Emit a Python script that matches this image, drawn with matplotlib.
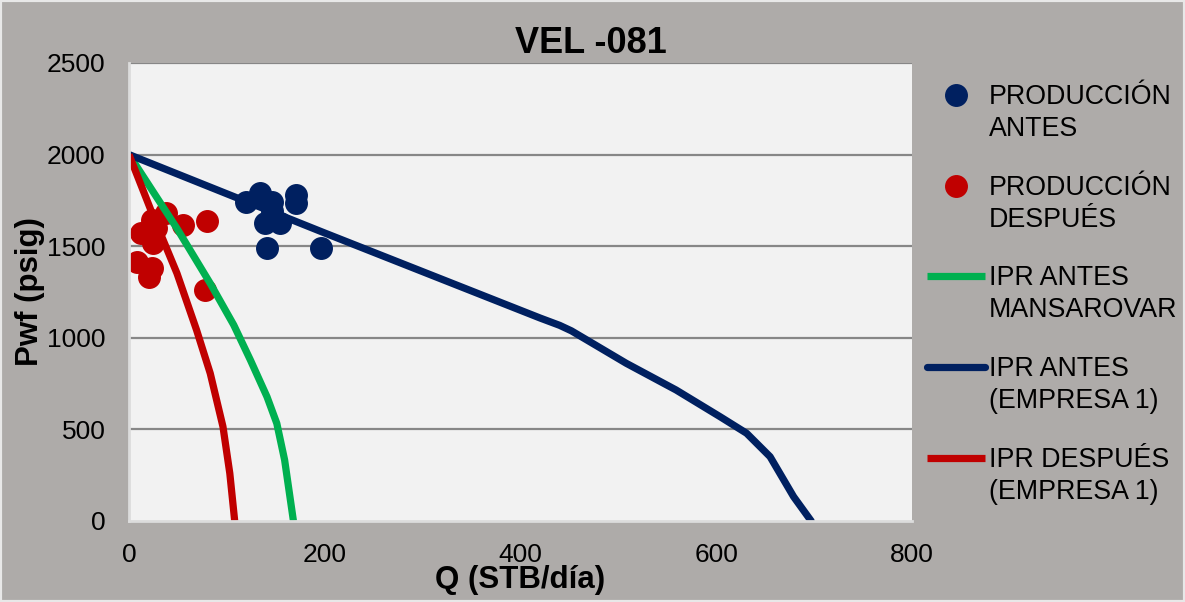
import matplotlib
matplotlib.use("Agg")
import matplotlib.pyplot as plt
from matplotlib.patches import Rectangle

plt.rcParams['font.family'] = ['Liberation Sans', 'DejaVu Sans']

# ---- data ----
q_antes = [120, 134, 146, 146, 171, 171, 139, 154, 141, 196]
p_antes = [1743, 1789, 1743, 1690, 1780, 1734, 1625, 1625, 1488, 1488]

q_despues = [38, 23, 55, 80, 12, 28, 25, 8, 23, 20, 78]
p_despues = [1680, 1643, 1616, 1637, 1570, 1600, 1516, 1416, 1379, 1334, 1261]

q_ipr_mansarovar = [0, 49, 83, 107, 124, 141, 151, 159, 168]
p_ipr_mansarovar = [2000, 1597, 1297, 1070, 879, 678, 533, 333, 0]

q_ipr_antes = [0, 200, 420, 440, 452, 465, 508, 559, 604, 631, 655, 679, 697]
p_ipr_antes = [2000, 1572, 1108, 1068, 1038, 997, 861, 715, 569, 479, 351, 133, 0]

q_ipr_despues = [0, 25, 49, 69, 83, 96, 103, 108]
p_ipr_despues = [2000, 1661, 1352, 1043, 806, 515, 260, 0]

x_ticks = [0, 200, 400, 600, 800]
y_ticks = [0, 500, 1000, 1500, 2000, 2500]

labels = ["PRODUCCIÓN\nANTES", "PRODUCCIÓN\nDESPUÉS", "IPR ANTES\nMANSAROVAR",
          "IPR ANTES\n(EMPRESA 1)", "IPR DESPUÉS\n(EMPRESA 1)"]
title = "VEL -081"
xlabel = "Q (STB/día)"
ylabel = "Pwf (psig)"

# ---- styles ----
BLUE = "#002060"
RED = "#C00000"
GREEN = "#00B050"
BG = "#AEABA9"
PLOT_BG = "#F2F2F2"
FS = 19.0
FS_LEG = 19.3

fig = plt.figure(figsize=(11.85, 6.02), dpi=100, facecolor=BG)
ax = fig.add_axes([129 / 1185, 1 - 521 / 602, (912 - 129) / 1185, (521 - 63) / 602])
ax.set_facecolor(PLOT_BG)

ms = 15.5
lw = 5.2
h1, = ax.plot(q_antes, p_antes, 'o', color=BLUE, ms=ms, mec=BLUE, label=labels[0])
h2, = ax.plot(q_despues, p_despues, 'o', color=RED, ms=ms, mec=RED, label=labels[1])
h3, = ax.plot(q_ipr_mansarovar, p_ipr_mansarovar, '-', color=GREEN, lw=lw,
              solid_capstyle='butt', solid_joinstyle='round', label=labels[2])
h4, = ax.plot(q_ipr_antes, p_ipr_antes, '-', color=BLUE, lw=lw,
              solid_capstyle='round', solid_joinstyle='round', label=labels[3])
h5, = ax.plot(q_ipr_despues, p_ipr_despues, '-', color=RED, lw=lw,
              solid_capstyle='butt', solid_joinstyle='round', label=labels[4])

ax.set_xlim(0, 800)
ax.set_ylim(0, 2500)
ax.set_xticks(x_ticks)
ax.set_yticks(y_ticks)
ax.tick_params(axis='both', length=0, labelsize=FS, colors='black')
ax.tick_params(axis='y', pad=17)
ax.tick_params(axis='x', pad=16)

ax.yaxis.grid(True, color='#878787', lw=1.6)
ax.set_axisbelow(True)
ax.get_ygridlines()[0].set_visible(False)
for s in ['top', 'right']:
    ax.spines[s].set_visible(False)
for s in ['left', 'bottom']:
    ax.spines[s].set_color('#DCDCDC')
    ax.spines[s].set_linewidth(2)

ax.set_xlabel(xlabel, fontsize=22.5, fontweight='bold')
ax.xaxis.set_label_coords(0.5, (521 - 580) / 458)
ax.xaxis.label.set_va('center')
ax.set_ylabel(ylabel, fontsize=22.5, fontweight='bold')
ax.yaxis.set_label_coords((30 - 129) / 783, 0.5)
ax.yaxis.label.set_va('center')

fig.text(591 / 1185, 1 - 53 / 602, title, fontsize=26, fontweight='bold',
         ha='center', va='baseline')

leg = fig.legend(handles=[h1, h2, h3, h4, h5], labels=labels, loc='upper left',
                 bbox_to_anchor=(927 / 1185, 1 - 84 / 602), frameon=False,
                 fontsize=FS_LEG, handlelength=2.18, handletextpad=0.12,
                 handleheight=1.1, labelspacing=1.22, borderpad=0,
                 borderaxespad=0, numpoints=1)
for t in leg.get_texts():
    t.set_linespacing(1.3)
for col in leg._legend_handle_box.get_children():
    for row in col.get_children():
        row.align = 'top'

fig.patches.append(Rectangle((0, 0), 1, 1, transform=fig.transFigure, fill=False,
                             edgecolor='#E8E8E8', lw=3))

fig.savefig("out.png", dpi=100, facecolor=BG)
